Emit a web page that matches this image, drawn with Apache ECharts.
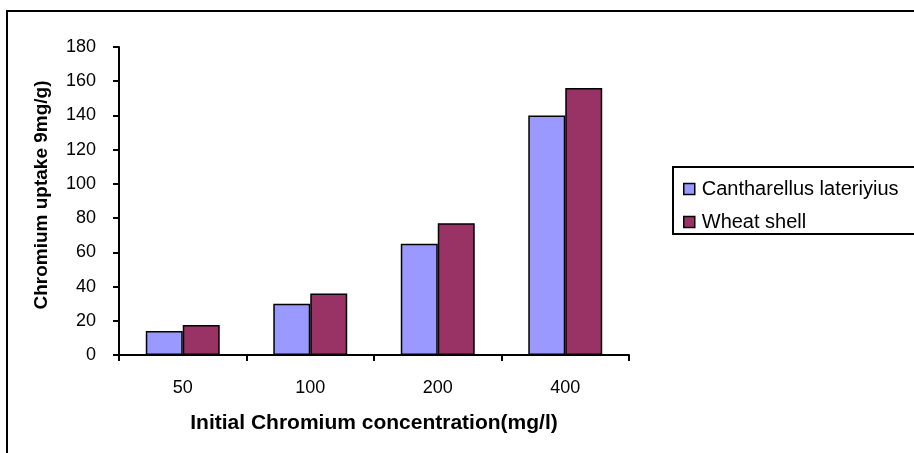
<!DOCTYPE html>
<html><head><meta charset="utf-8">
<script src="https://cdn.jsdelivr.net/npm/echarts@6/dist/echarts.min.js"></script>
<style>html,body{margin:0;padding:0;background:#fff}#c{width:914px;height:453px}</style>
</head><body><div id="c"></div>
<script>
const categories = ['50', '100', '200', '400'];
const cantharellus = [14, 30, 65, 140];
const wheatShell = [17.5, 36, 77, 156];
const yTicks = { min: 0, max: 180, interval: 20 };
const xTitle = 'Initial Chromium concentration(mg/l)';
const yTitle = 'Chromium uptake 9mg/g)';
const seriesNames = ['Cantharellus lateriyius', 'Wheat shell'];

const chart = echarts.init(document.getElementById('c'), null, { renderer: 'canvas' });
const font = 'Liberation Sans, Arial, sans-serif';
chart.setOption({
  animation: false,
  graphic: [
    { type: 'rect', shape: { x: 7, y: 11, width: 1000, height: 600 }, style: { fill: 'none', stroke: '#000', lineWidth: 2 }, silent: true },
    { type: 'rect', shape: { x: 673, y: 167, width: 400, height: 67 }, style: { fill: '#fff', stroke: '#000', lineWidth: 2 }, silent: true, z: 0 },
    { type: 'text', x: 374, y: 423, silent: true,
      style: { text: xTitle, fontFamily: font, fontSize: 21, fontWeight: 'bold', fill: '#000', textAlign: 'center', textVerticalAlign: 'middle' } },
    { type: 'text', x: 42, y: 195, rotation: Math.PI / 2, silent: true,
      style: { text: yTitle, fontFamily: font, fontSize: 19, fontWeight: 'bold', fill: '#000', textAlign: 'center', textVerticalAlign: 'middle' } }
  ],
  legend: {
    orient: 'vertical', left: 678, top: 174, itemWidth: 11, itemHeight: 11, itemGap: 13,
    icon: 'rect', z: 5,
    textStyle: { fontFamily: font, fontSize: 20, color: '#000', padding: [0, 0, 0, 2] },
    data: seriesNames.map(n => ({ name: n, itemStyle: { borderColor: '#000', borderWidth: 1.5 } }))
  },
  grid: { left: 119, right: 914 - 629, top: 47, bottom: 453 - 355, containLabel: false },
  xAxis: {
    type: 'category', data: categories,
    axisLine: { lineStyle: { color: '#000', width: 2 } },
    axisTick: { show: true, length: 6, lineStyle: { color: '#000', width: 2 } },
    axisLabel: { fontFamily: font, fontSize: 18, color: '#000', margin: 24 }
  },
  yAxis: {
    type: 'value', min: yTicks.min, max: yTicks.max, interval: yTicks.interval,
    axisLine: { show: true, lineStyle: { color: '#000', width: 2 } },
    axisTick: { show: true, length: 6, inside: false, lineStyle: { color: '#000', width: 2 } },
    axisLabel: { fontFamily: font, fontSize: 18, color: '#000', margin: 23 },
    splitLine: { show: false }
  },
  series: [
    { name: seriesNames[0], type: 'bar', data: cantharellus, barGap: '0%', barCategoryGap: '42%',
      itemStyle: { color: '#9999ff', borderColor: '#000', borderWidth: 1.5 } },
    { name: seriesNames[1], type: 'bar', data: wheatShell, barGap: '0%', barCategoryGap: '42%',
      itemStyle: { color: '#993366', borderColor: '#000', borderWidth: 1.5 } }
  ]
});
</script></body></html>
